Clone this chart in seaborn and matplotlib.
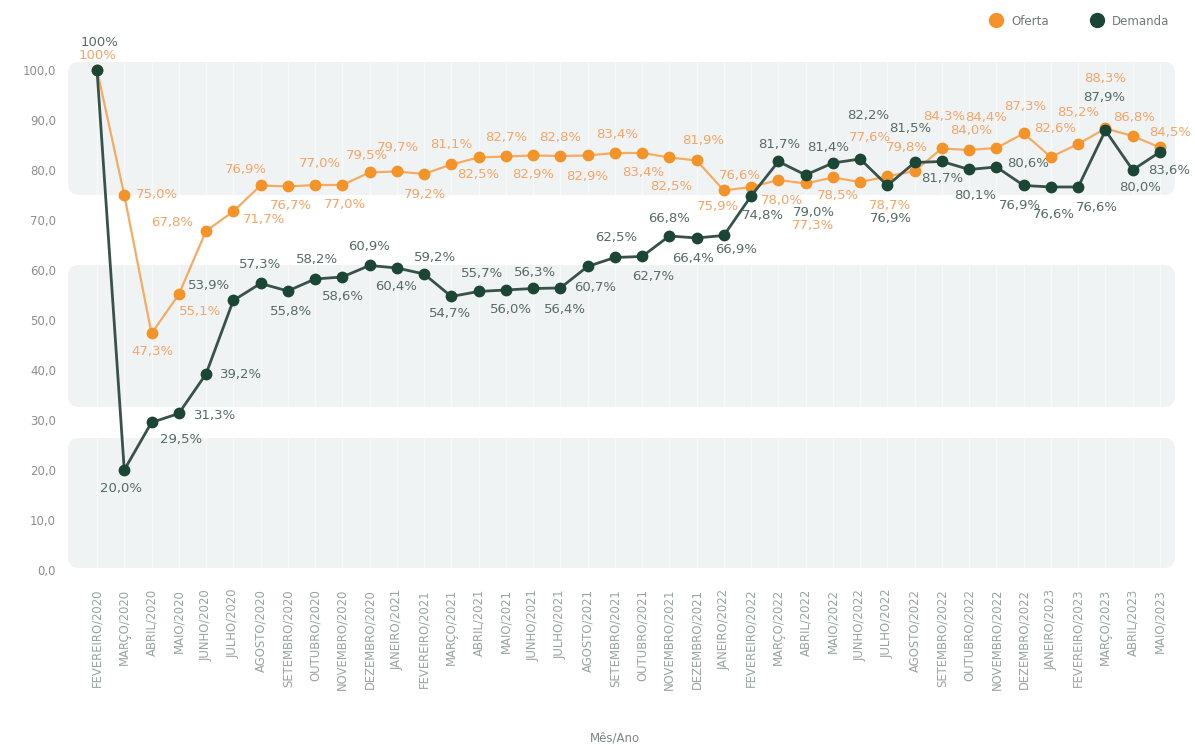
import matplotlib
matplotlib.use("Agg")
import matplotlib.pyplot as plt
from matplotlib.patches import FancyBboxPatch
from matplotlib.lines import Line2D
import seaborn as sns
import pandas as pd

meses = ["FEVEREIRO/2020", "MARÇO/2020", "ABRIL/2020", "MAIO/2020", "JUNHO/2020", "JULHO/2020",
         "AGOSTO/2020", "SETEMBRO/2020", "OUTUBRO/2020", "NOVEMBRO/2020", "DEZEMBRO/2020",
         "JANEIRO/2021", "FEVEREIRO/2021", "MARÇO/2021", "ABRIL/2021", "MAIO/2021", "JUNHO/2021",
         "JULHO/2021", "AGOSTO/2021", "SETEMBRO/2021", "OUTUBRO/2021", "NOVEMBRO/2021",
         "DEZEMBRO/2021", "JANEIRO/2022", "FEVEREIRO/2022", "MARÇO/2022", "ABRIL/2022",
         "MAIO/2022", "JUNHO/2022", "JULHO/2022", "AGOSTO/2022", "SETEMBRO/2022",
         "OUTUBRO/2022", "NOVEMBRO/2022", "DEZEMBRO/2022", "JANEIRO/2023", "FEVEREIRO/2023",
         "MARÇO/2023", "ABRIL/2023", "MAIO/2023"]

oferta = [100, 75.0, 47.3, 55.1, 67.8, 71.7, 76.9, 76.7, 77.0, 77.0, 79.5, 79.7, 79.2, 81.1,
          82.5, 82.7, 82.9, 82.8, 82.9, 83.4, 83.4, 82.5, 81.9, 75.9, 76.6, 78.0, 77.3, 78.5,
          77.6, 78.7, 79.8, 84.3, 84.0, 84.4, 87.3, 82.6, 85.2, 88.3, 86.8, 84.5]

demanda = [100, 20.0, 29.5, 31.3, 39.2, 53.9, 57.3, 55.8, 58.2, 58.6, 60.9, 60.4, 59.2, 54.7,
           55.7, 56.0, 56.3, 56.4, 60.7, 62.5, 62.7, 66.8, 66.4, 66.9, 74.8, 81.7, 79.0, 81.4,
           82.2, 76.9, 81.5, 81.7, 80.1, 80.6, 76.9, 76.6, 76.6, 87.9, 80.0, 83.6]

y_ticks = [0, 10, 20, 30, 40, 50, 60, 70, 80, 90, 100]

# label offsets in pixels (dx, dy), placement only
off_oferta = [(0, 14), (33, 0), (1, -18), (21, -17), (-34, 8), (31, -8), (-15, 16), (3, -19),
              (5, 21), (3, -20), (-3, 17), (1, 24), (1, -21), (0, 20), (0, -17), (0, 19),
              (0, -19), (0, 18), (0, -21), (2, 18), (1, -20), (2, -29), (7, 20), (-6, -16),
              (-11, 11), (3, -21), (7, -42), (5, -18), (10, 44), (3, -29), (-8, 23), (2, 32),
              (2, 19), (-10, 30), (2, 27), (4, 28), (0, 31), (0, 50), (1, 18), (10, 15)]
off_demanda = [(2, 27), (-3, -19), (30, -17), (36, -2), (35, -1), (-24, 15), (0, 19), (3, -21),
               (2, 19), (1, -20), (0, 19), (-1, -19), (11, 16), (-1, -17), (3, 18), (5, -20),
               (2, 16), (5, -22), (8, -21), (1, 20), (11, -20), (0, 17), (-4, -21), (12, -14),
               (12, -20), (1, 17), (8, -38), (-5, 15), (8, 43), (3, -33), (-4, 34), (0, -17),
               (6, -26), (32, 3), (-4, -20), (3, -28), (19, -21), (-1, 33), (7, -18), (9, -19)]

OR_LINE, OR_MARK, OR_TEXT = "#f6ab62", "#f39328", "#f4a56a"
DK_LINE, DK_MARK, DK_TEXT = "#38524a", "#1b4535", "#566b64"
BAND = "#f0f3f3"

sns.set_theme(style="white")
plt.rcParams["font.family"] = ["DejaVu Sans"]

fig = plt.figure(figsize=(11.95, 7.45), dpi=100)
ax = fig.add_axes([64.3 / 1195, 0.2282, 1112 / 1195, 0.6913])
ax.set_xlim(-1.2, 39.6)
ax.set_ylim(-1, 102)

# background bands
for y0, y1 in [(75.0, 101.6), (32.6, 61.0), (0.4, 26.4)]:
    p = FancyBboxPatch((-1.06, y0), 39.55 + 1.06, y1 - y0,
                       boxstyle="round,pad=0,rounding_size=0.4",
                       mutation_aspect=5.45, fc=BAND, ec="none", zorder=0)
    ax.add_patch(p)
    vl = ax.vlines(range(len(meses)), y0, y1, colors="white", lw=1.0, alpha=0.6, zorder=0.5)
    vl.set_clip_path(p)

x = list(range(len(meses)))
df_o = pd.DataFrame({"x": x, "v": oferta})
df_d = pd.DataFrame({"x": x, "v": demanda})

sns.lineplot(data=df_o, x="x", y="v", ax=ax, color=OR_LINE, lw=1.6, marker="o",
             markersize=8.5, markerfacecolor=OR_MARK, markeredgecolor=OR_MARK,
             markeredgewidth=0, zorder=3)
sns.lineplot(data=df_d, x="x", y="v", ax=ax, color=DK_LINE, lw=2.0, marker="o",
             markersize=8.5, markerfacecolor=DK_MARK, markeredgecolor=DK_MARK,
             markeredgewidth=0, zorder=4)


def fmt(v):
    return "100%" if v == 100 else f"{v:.1f}%".replace(".", ",")


for vals, offs, col in [(oferta, off_oferta, OR_TEXT), (demanda, off_demanda, DK_TEXT)]:
    for i, (v, (dx, dy)) in enumerate(zip(vals, offs)):
        ax.annotate(fmt(v), (i, v), xytext=(dx, dy), textcoords="offset pixels",
                    ha="center", va="center", fontsize=9.5, color=col, zorder=5,
                    annotation_clip=False)

ax.set_xticks(x)
ax.set_xticklabels(meses, rotation=90, fontsize=8.4, color="#9aa3a0")
ax.set_yticks(y_ticks)
ax.set_yticklabels([f"{t:.1f}".replace(".", ",") for t in y_ticks], fontsize=8.5, color="#8c8f8e")
ax.tick_params(axis="x", length=0, pad=10)
ax.tick_params(axis="y", length=0, pad=6)
ax.set_xlabel("")
ax.set_ylabel("")
for s in ax.spines.values():
    s.set_visible(False)
ax.grid(False)

fig.text(615 / 1195, 1 - 738 / 745, "Mês/Ano", ha="center", va="center", fontsize=8.5,
         color="#7d8582")

handles = [Line2D([], [], ls="none", marker="o", markersize=10, color=OR_MARK, label="Oferta"),
           Line2D([], [], ls="none", marker="o", markersize=10, color=DK_MARK, label="Demanda")]
leg = fig.legend(handles=handles, loc="upper right", bbox_to_anchor=(1180 / 1195, 1 - 4 / 745),
                 ncol=2, frameon=False, fontsize=8.5, handletextpad=0.3, columnspacing=3.0)
for t in leg.get_texts():
    t.set_color("#6f7b77")

fig.savefig("out.png", dpi=100)
